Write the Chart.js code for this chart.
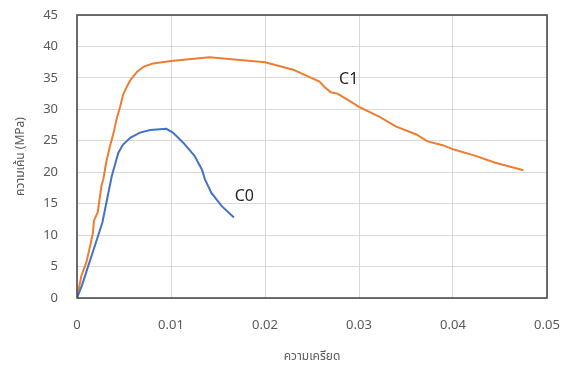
<!DOCTYPE html>
<html>
<head>
<meta charset="utf-8">
<script src="https://cdn.jsdelivr.net/npm/chart.js@4.4.1/dist/chart.umd.min.js"></script>
<style>
  html, body { margin: 0; padding: 0; background: #fff; }
  #wrap { width: 571px; height: 365px; }
</style>
</head>
<body>
<div id="wrap"><canvas id="stressChart" width="571" height="365"></canvas></div>
<script>
// strain / stress readings for each specimen
const strainC0 = [0, 0.00053, 0.0012, 0.0019, 0.0027, 0.0032, 0.0037, 0.0044, 0.0049, 0.0057, 0.0067, 0.0078, 0.0095,
    0.0102, 0.0113, 0.0125, 0.0133, 0.0136, 0.0143, 0.0154, 0.0167];
const stressC0 = [0, 2.0, 5.1, 8.3, 12.0, 15.7, 19.4, 23.1, 24.4, 25.5, 26.3, 26.7, 26.9,
    26.3, 24.7, 22.6, 20.4, 18.9, 16.7, 14.6, 12.8];

const strainC1 = [0, 0.00046, 0.001, 0.0014, 0.0017, 0.0018, 0.0022, 0.0024, 0.0026, 0.0028, 0.0031, 0.0035, 0.0039,
    0.0042, 0.0046, 0.0049, 0.0053, 0.0057, 0.0064, 0.0071, 0.0081, 0.01, 0.0141, 0.02, 0.0205, 0.023, 0.0258,
    0.0263, 0.027, 0.0277, 0.0286, 0.03, 0.0322, 0.0339, 0.0361, 0.0373, 0.0389, 0.0401, 0.0424, 0.0445, 0.0475];
const stressC1 = [0, 3.5, 5.7, 8.3, 10.4, 12.3, 13.6, 15.7, 17.8, 18.9, 21.5, 24.1, 26.3,
    28.4, 30.5, 32.3, 33.6, 34.7, 36.0, 36.8, 37.3, 37.7, 38.3, 37.5, 37.3, 36.3, 34.4,
    33.6, 32.7, 32.5, 31.7, 30.4, 28.8, 27.3, 26.0, 24.9, 24.3, 23.6, 22.6, 21.5, 20.3];

const seriesNames = ['C0', 'C1'];
const xTicks = [0, 0.01, 0.02, 0.03, 0.04, 0.05];
const yTicks = [0, 5, 10, 15, 20, 25, 30, 35, 40, 45];

// where the series names sit, in data units
const labelAt = { C0: [0.0178, 16.2], C1: [0.0289, 34.8] };

const xTitle = 'ความเครียด';
const yTitle = 'ความเค้น (MPa)';

const fontFamily = '"Noto Sans", "Noto Sans Thai", "Open Sans", sans-serif';

function toPoints(xs, ys) {
    return xs.map((x, i) => ({ x: x, y: ys[i] }));
}

// keep the plot area fixed: no extra padding from tick labels
function fixBox(size, key) {
    return axis => {
        axis[key] = size;
        axis.paddingTop = 0;
        axis.paddingBottom = 0;
        axis.paddingLeft = 0;
        axis.paddingRight = 0;
    };
}

// frame around the plot area + series name labels
const framePlugin = {
    id: 'frame',
    afterDatasetsDraw(chart) {
        const { ctx, chartArea, scales } = chart;
        ctx.save();
        ctx.strokeStyle = '#404040';
        ctx.lineWidth = 1.5;
        ctx.strokeRect(chartArea.left, chartArea.top, chartArea.right - chartArea.left, chartArea.bottom - chartArea.top);

        ctx.fillStyle = '#262626';
        ctx.font = '16px ' + fontFamily;
        ctx.textAlign = 'center';
        ctx.textBaseline = 'middle';
        seriesNames.forEach(name => {
            const pos = labelAt[name];
            ctx.fillText(name, scales.x.getPixelForValue(pos[0]), scales.y.getPixelForValue(pos[1]));
        });
        ctx.restore();
    }
};

const ctx = document.getElementById('stressChart').getContext('2d');
const stressChart = new Chart(ctx, {
    type: 'scatter',
    data: {
        datasets: [
            {
                label: seriesNames[0],
                data: toPoints(strainC0, stressC0),
                showLine: true,
                borderColor: '#4472C4',
                borderWidth: 2,
                pointRadius: 0,
                tension: 0
            },
            {
                label: seriesNames[1],
                data: toPoints(strainC1, stressC1),
                showLine: true,
                borderColor: '#ED7D31',
                borderWidth: 2,
                pointRadius: 0,
                tension: 0
            }
        ]
    },
    options: {
        responsive: false,
        animation: false,
        layout: { padding: { top: 15, right: 24, left: 0, bottom: 0 } },
        plugins: {
            legend: { display: false },
            tooltip: { enabled: false }
        },
        scales: {
            x: {
                type: 'linear',
                min: 0,
                max: 0.05,
                afterBuildTicks: axis => { axis.ticks = xTicks.map(v => ({ value: v })); },
                afterFit: fixBox(67, 'height'),
                grid: { color: '#d9d9d9', lineWidth: 1, drawTicks: false },
                border: { display: false },
                ticks: {
                    color: '#595959',
                    padding: 19,
                    font: { family: fontFamily, size: 13 },
                    callback: v => String(v)
                },
                title: {
                    display: true,
                    text: xTitle,
                    color: '#595959',
                    font: { family: fontFamily, size: 12 },
                    padding: { top: 16, bottom: 1 }
                }
            },
            y: {
                type: 'linear',
                min: 0,
                max: 45,
                afterBuildTicks: axis => { axis.ticks = yTicks.map(v => ({ value: v })); },
                afterFit: fixBox(77, 'width'),
                grid: { color: '#d9d9d9', lineWidth: 1, drawTicks: false },
                border: { display: false },
                ticks: {
                    color: '#595959',
                    padding: 19,
                    font: { family: fontFamily, size: 13 }
                },
                title: {
                    display: true,
                    text: yTitle,
                    color: '#595959',
                    font: { family: fontFamily, size: 12 },
                    padding: { top: 13, bottom: 0 }
                }
            }
        }
    },
    plugins: [framePlugin]
});
</script>
</body>
</html>
